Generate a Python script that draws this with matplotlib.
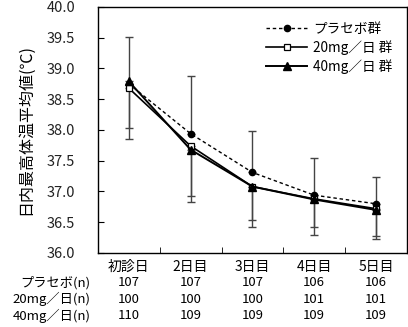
import matplotlib
matplotlib.use('Agg')
import matplotlib.pyplot as plt
from matplotlib.transforms import blended_transform_factory

plt.rcParams['font.family'] = ['Noto Sans CJK JP', 'DejaVu Sans']

# Data
days = ['初診日', '2日目', '3日目', '4日目', '5日目']
placebo = [38.75, 37.94, 37.31, 36.94, 36.80]
mg20 = [38.68, 37.74, 37.08, 36.88, 36.72]
mg40 = [38.79, 37.68, 37.08, 36.87, 36.70]
placebo_up = [39.52, 38.88, 37.99, 37.54, 37.24]
mg20_low = [38.04, 36.92, 36.53, 36.42, 36.27]
mg40_low = [37.85, 36.83, 36.43, 36.30, 36.23]

row_labels = ['プラセボ(n)', '20mg／日(n)', '40mg／日(n)']
n_placebo = [107, 107, 107, 106, 106]
n_20 = [100, 100, 100, 101, 101]
n_40 = [110, 109, 109, 109, 109]

fig = plt.figure(figsize=(4.08, 3.27), dpi=100)
ax = fig.add_axes([0.240, 0.2263, 0.7575, 0.7523])

x = list(range(len(days)))
ecol = '#444444'

# error bars: placebo upward, active groups downward
ax.errorbar(x, placebo, yerr=[[0] * 5, [u - m for u, m in zip(placebo_up, placebo)]],
            fmt='none', ecolor=ecol, elinewidth=1, capsize=3, capthick=1)
ax.errorbar(x, mg20, yerr=[[m - l for m, l in zip(mg20, mg20_low)], [0] * 5],
            fmt='none', ecolor=ecol, elinewidth=1, capsize=3, capthick=1)
ax.errorbar(x, mg40, yerr=[[m - l for m, l in zip(mg40, mg40_low)], [0] * 5],
            fmt='none', ecolor=ecol, elinewidth=1, capsize=3, capthick=1)

ax.plot(x, placebo, linestyle=(0, (2.5, 2)), color='black', linewidth=1,
        marker='o', markersize=4.5, markerfacecolor='black', label='プラセボ群')
ax.plot(x, mg20, linestyle='-', color='black', linewidth=1.2,
        marker='s', markersize=5, markerfacecolor='white', markeredgewidth=0.9,
        label='20mg／日 群')
ax.plot(x, mg40, linestyle='-', color='black', linewidth=1.4,
        marker='^', markersize=6, markerfacecolor='black', label='40mg／日 群')

ax.set_xlim(-0.5, 4.5)
ax.set_ylim(36.0, 40.0)
ax.set_yticks([36.0 + 0.5 * i for i in range(9)])
ax.set_yticklabels([f'{36.0 + 0.5 * i:.1f}' for i in range(9)], fontsize=10.5, color='#222222')
ax.tick_params(axis='y', direction='in', length=4, pad=16.5)

ax.set_xticks(x)
ax.set_xticklabels(days, fontsize=10)
ax.tick_params(axis='x', length=0, pad=5)
ax.set_xticks([0.5, 1.5, 2.5, 3.5], minor=True)
ax.tick_params(axis='x', which='minor', direction='in', length=4)

for sp in ax.spines.values():
    sp.set_linewidth(1)

ax.set_ylabel('日内最高体温平均値(℃)', fontsize=11.5)
ax.yaxis.set_label_coords(-0.208, 0.5)

leg = ax.legend(loc='upper right', frameon=False, fontsize=9.8, handlelength=3.0,
                handletextpad=0.4, labelspacing=0.3, borderaxespad=0.7)

trans = blended_transform_factory(ax.transData, fig.transFigure)
rows_y = [0.135, 0.085, 0.035]
for lab, vals, yy in zip(row_labels, [n_placebo, n_20, n_40], rows_y):
    fig.text(0.222, yy, lab, ha='right', va='center', fontsize=9.5)
    for xi, v in zip(x, vals):
        ax.text(xi, yy, str(v), transform=trans, ha='center', va='center', fontsize=9.5)

fig.savefig('out.png', dpi=100)
